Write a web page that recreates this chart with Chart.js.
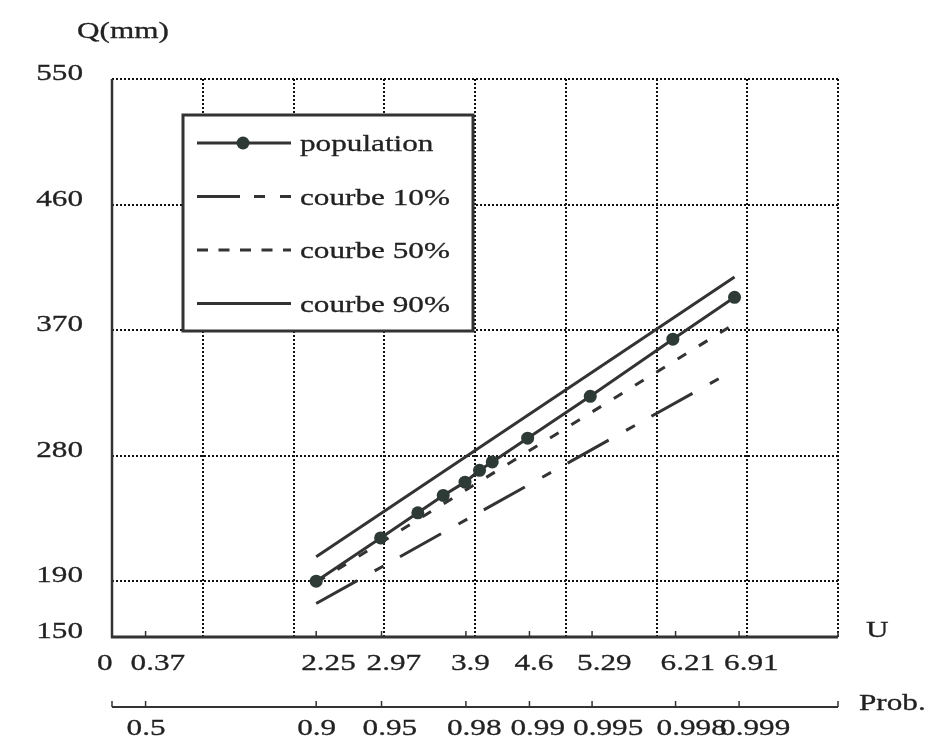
<!DOCTYPE html>
<html lang="fr">
<head>
<meta charset="UTF-8">
<title>Q(mm) - U</title>
<script src="https://cdn.jsdelivr.net/npm/chart.js"></script>
<style>
  body { margin: 0; background: #fff; }
  .wrap { width: 932px; height: 740px; position: relative; }
</style>
</head>
<body>
<div class="wrap"><canvas id="chart"></canvas></div>
<script>
// population (reduced variate U, discharge Q)
const popU = [2.25, 2.96, 3.37, 3.65, 3.89, 4.05, 4.19, 4.58, 5.27, 6.18, 6.86];
const popQ = [190, 221, 239, 251.5, 261, 269.5, 275.5, 292.5, 322.5, 363.5, 393.5];

// fitted curves, given at both ends of the sample range
const curveU = [2.25, 6.86];
const q10 = [174, 341.5];
const q50 = [189, 374.5];
const q90 = [207.5, 408];

// axis ticks
const uTicks = [0, 0.37, 2.25, 2.97, 3.9, 4.6, 5.29, 6.21, 6.91];
const uLabels = ['0', '0.37', '2.25', '2.97', '3.9', '4.6', '5.29', '6.21', '6.91'];
const probTicks = [0.37, 2.25, 2.97, 3.9, 4.6, 5.29, 6.21, 6.91];
const probLabels = ['0.5', '0.9', '0.95', '0.98', '0.99', '0.995', '0.998', '0.999'];
const qTicks = [150, 190, 280, 370, 460, 550];

const INK = '#333';
const FONT = '24px "Liberation Serif", "Times New Roman", serif';
const STRETCH = 1.3;

const toXY = (xs, ys) => xs.map((x, i) => ({ x: x, y: ys[i] }));

// serif text, widened like the printed figure
function text(ctx, str, x, y, align) {
  ctx.save();
  ctx.translate(x, y);
  ctx.scale(STRETCH, 1);
  ctx.font = FONT;
  ctx.fillStyle = '#222';
  ctx.strokeStyle = '#222';
  ctx.lineWidth = 0.3;
  ctx.textAlign = align || 'left';
  ctx.textBaseline = 'alphabetic';
  ctx.fillText(str, 0, 0);
  ctx.strokeText(str, 0, 0);
  ctx.restore();
}

function line(ctx, x1, y1, x2, y2, w, dash) {
  ctx.save();
  ctx.strokeStyle = INK;
  ctx.lineWidth = w;
  ctx.setLineDash(dash || []);
  ctx.beginPath();
  ctx.moveTo(x1, y1);
  ctx.lineTo(x2, y2);
  ctx.stroke();
  ctx.restore();
}

const decor = {
  id: 'decor',
  afterDatasetsDraw(chart) {
    const ctx = chart.ctx;
    const xs = chart.scales.x, ys = chart.scales.y;
    const left = xs.left, right = xs.right, top = ys.top, bottom = ys.bottom;

    // axes
    line(ctx, left, top, left, bottom + 1, 2.5);
    line(ctx, left - 1, bottom, right, bottom, 3);
    line(ctx, right, bottom, right, bottom - 5, 1.5);
    uTicks.slice(1).forEach(v => {
      const px = xs.getPixelForValue(v);
      line(ctx, px, bottom, px, bottom - 6, 1.5);
    });

    // probability axis below
    const py = bottom + 70;
    line(ctx, left, py, right, py, 2);
    [0, 8].concat(probTicks).forEach(v => {
      const px = xs.getPixelForValue(v);
      line(ctx, px, py, px, py - 6, 1.5);
    });

    // labels
    qTicks.forEach(v => text(ctx, String(v), left - 29, ys.getPixelForValue(v) + 1, 'right'));
    uTicks.forEach((v, i) => text(ctx, uLabels[i], xs.getPixelForValue(v) - 15, bottom + 33));
    probTicks.forEach((v, i) => text(ctx, probLabels[i], xs.getPixelForValue(v) - 19, py + 28));
    text(ctx, 'Q(mm)', 77, 38);
    text(ctx, 'U', right + 28, bottom);
    text(ctx, 'Prob.', right + 21, py + 3);

    // legend
    const bx = 183, by = 115, bw = 290, bh = 216;
    ctx.save();
    ctx.fillStyle = '#fff';
    ctx.fillRect(bx, by, bw, bh);
    ctx.strokeStyle = INK;
    ctx.lineWidth = 3;
    ctx.strokeRect(bx, by, bw, bh);
    ctx.restore();

    const rows = [
      { label: 'population', dash: [], dot: true },
      { label: 'courbe 10%', dash: [43, 14, 11, 15] },
      { label: 'courbe 50%', dash: [11, 10.5] },
      { label: 'courbe 90%', dash: [] }
    ];
    rows.forEach((r, i) => {
      const y = 143 + i * 53.5;
      line(ctx, 197, y, 291, y, 3, r.dash);
      if (r.dot) {
        ctx.save();
        ctx.fillStyle = '#2d3a36';
        ctx.beginPath();
        ctx.arc(243, y, 6.5, 0, Math.PI * 2);
        ctx.fill();
        ctx.restore();
      }
      text(ctx, r.label, 300, y + 8);
    });
  }
};

const gridOpts = { color: '#111', lineWidth: 2, drawTicks: false };

new Chart(document.getElementById('chart'), {
  type: 'scatter',
  data: {
    datasets: [
      {
        label: 'population',
        data: toXY(popU, popQ),
        showLine: true,
        borderColor: INK,
        borderWidth: 3,
        pointRadius: 6.5,
        pointBackgroundColor: '#2d3a36',
        pointBorderWidth: 0
      },
      {
        label: 'courbe 10%',
        data: toXY(curveU, q10),
        showLine: true,
        borderColor: INK,
        borderWidth: 3,
        borderDash: [47, 20, 10, 19],
        pointRadius: 0
      },
      {
        label: 'courbe 50%',
        data: toXY(curveU, q50),
        showLine: true,
        borderColor: INK,
        borderWidth: 3,
        borderDash: [10, 15],
        pointRadius: 0
      },
      {
        label: 'courbe 90%',
        data: toXY(curveU, q90),
        showLine: true,
        borderColor: INK,
        borderWidth: 3,
        pointRadius: 0
      }
    ]
  },
  options: {
    responsive: true,
    maintainAspectRatio: false,
    animation: false,
    layout: { padding: { left: 112, right: 94, top: 79, bottom: 103 } },
    plugins: { legend: { display: false }, tooltip: { enabled: false } },
    scales: {
      x: {
        type: 'linear',
        min: 0,
        max: 8,
        ticks: { display: false, stepSize: 1 },
        grid: gridOpts,
        border: { display: false, dash: [2, 2] },
        afterFit: s => { s.height = 0; }
      },
      y: {
        type: 'linear',
        min: 150,
        max: 550,
        afterBuildTicks: s => { s.ticks = qTicks.map(v => ({ value: v })); },
        ticks: { display: false },
        grid: gridOpts,
        border: { display: false, dash: [2, 2] },
        afterFit: s => { s.width = 0; }
      }
    }
  },
  plugins: [decor]
});
</script>
</body>
</html>
